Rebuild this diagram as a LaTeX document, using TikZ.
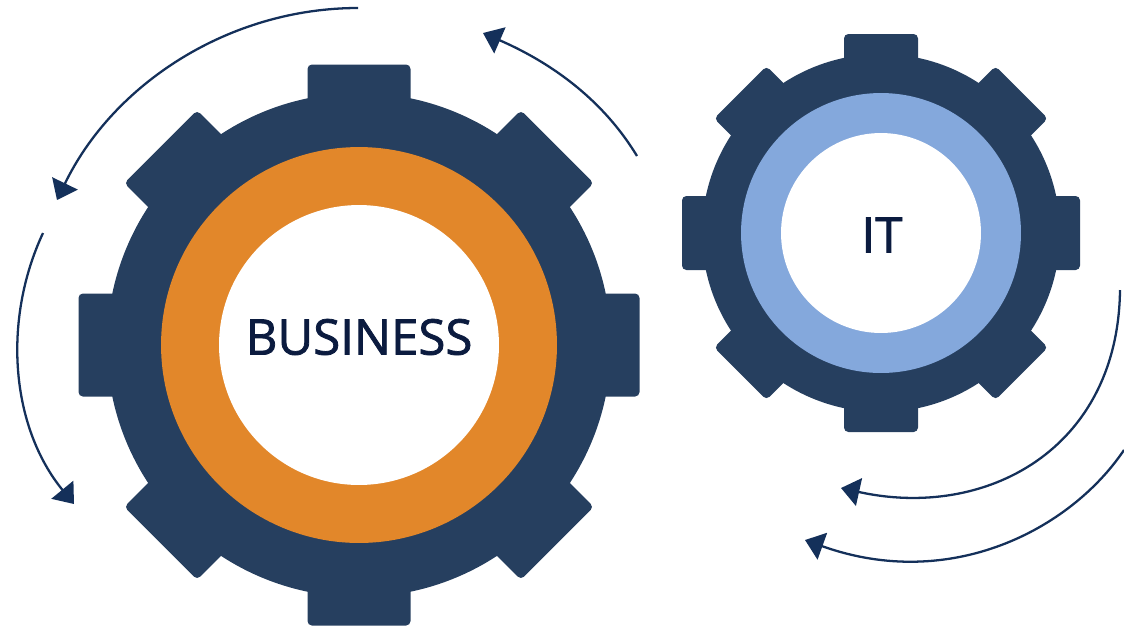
\documentclass[tikz,border=0pt]{standalone}
\usepackage{fontspec}
\setmainfont[FakeBold=1.6]{Open Sans}
\usetikzlibrary{arrows.meta}
\definecolor{gearblue}{HTML}{263F5F}
\definecolor{ringorange}{HTML}{E2872A}
\definecolor{ringblue}{HTML}{84A8DC}
\definecolor{inkblue}{HTML}{0B1B3F}
\definecolor{flowblue}{HTML}{14305A}
\tikzset{
    hub/.style={circle, inner sep=0pt, outer sep=0pt, fill=#1},
    caption/.style={inner sep=0pt, text=inkblue, font=\fontsize{28}{30}\selectfont},
    tooth/.style={fill=gearblue, rounded corners=2.5pt},
    flow/.style={draw=flowblue, line width=1.3pt, -{Triangle[length=10.5pt, width=16pt, fill=flowblue]}}
}

\begin{document}
\begin{tikzpicture}
  [
    x = 0.02cm,
    y = -0.02cm,
  ]
  \useasboundingbox (0,0) rectangle (1124,627);

  % teeth
  \foreach \a in {0,45,...,315} {
    \begin{scope}[shift={(359,345)}, rotate=\a]
      \fill [tooth] (-51.5,-220) -- (-51.5,-280.5) -- (51.5,-280.5) -- (51.5,-220) -- cycle;
    \end{scope}
    \begin{scope}[shift={(881,233)}, rotate=\a]
      \fill [tooth] (-37,-150) -- (-37,-199) -- (37,-199) -- (37,-150) -- cycle;
    \end{scope}
  }

  % business gear
  \node [hub=gearblue, minimum size=10.08cm] (bizbody) at (359,345) {};
  \node [hub=ringorange, minimum size=7.92cm] (bizring) at (bizbody) {};
  \node [hub=white, minimum size=5.6cm] (bizhole) at (bizbody) {};
  \node [caption] (biz) at (359,337) {BUSINESS};

  % it gear
  \node [hub=gearblue, minimum size=7.16cm] (itbody) at (881,233) {};
  \node [hub=ringblue, minimum size=5.6cm] (itring) at (itbody) {};
  \node [hub=white, minimum size=4cm] (ithole) at (itbody) {};
  \node [caption] (it) at (882,235) {IT};

  % arrows
  \coordinate (a1) at (358,8);
  \coordinate (a2) at (57,200);
  \coordinate (b1) at (43,233);
  \coordinate (b2) at (74,504);
  \coordinate (c1) at (637,156);
  \coordinate (c2) at (483,33);
  \coordinate (d1) at (1120,290);
  \coordinate (d2) at (841,488);
  \coordinate (e1) at (1124,450);
  \coordinate (e2) at (805,540);

  \draw [flow] (a1) .. controls (229,8) and (113,84) .. (a2);
  \draw [flow] (b1) .. controls (2,321) and (11,427) .. (b2);
  \draw [flow] (c1) .. controls (600,95) and (545,60) .. (c2);
  \draw [flow] (d1) .. controls (1118,450) and (985,520) .. (d2);
  \draw [flow] (e1) .. controls (1070,530) and (950,592) .. (e2);
\end{tikzpicture}
\end{document}
